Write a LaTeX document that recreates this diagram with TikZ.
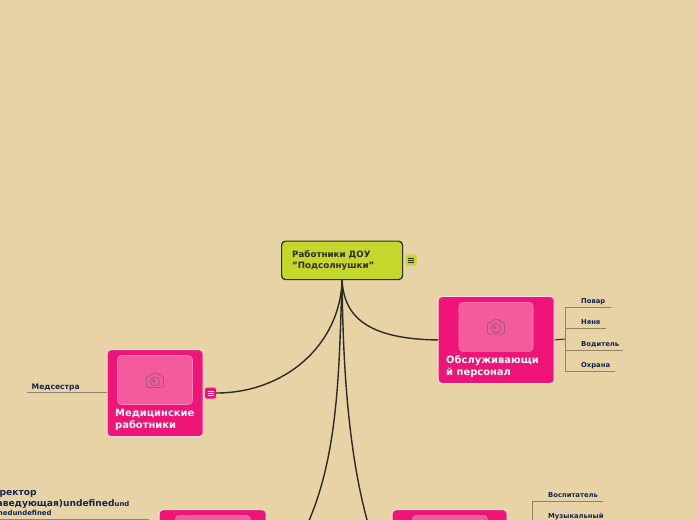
\documentclass[tikz,border=0pt]{standalone}
\usepackage{fontspec}
\setmainfont{DejaVu Sans}
\usetikzlibrary{calc}
\definecolor{bgc}{HTML}{E8D3A6}
\definecolor{rootc}{HTML}{C3D82B}
\definecolor{pinkc}{HTML}{EF1478}
\definecolor{photoc}{HTML}{F45B9D}
\definecolor{iconc}{HTML}{A8587F}
\definecolor{navyc}{HTML}{14264F}
\definecolor{linec}{HTML}{8F8268}
\definecolor{darkc}{HTML}{2E2A24}
\tikzset{
 card/.style={draw=white!85!pinkc,line width=.9pt,fill=pinkc,rounded corners=4pt,anchor=north west,inner sep=0pt,minimum width=#1},
 photo/.style={draw=white!25!photoc,line width=.6pt,fill=photoc,rounded corners=4pt,inner sep=0pt,minimum width=74pt,minimum height=49pt,anchor=north west},
 cardtext/.style={anchor=north west,text=white,font=\bfseries\fontsize{9.95}{12.2}\selectfont,inner sep=0pt,align=left},
 leaf/.style={anchor=base west,text=navyc,font=\bfseries\fontsize{6.8}{8}\selectfont,inner sep=0pt},
 leafline/.style={draw=linec,line width=1pt},
 main/.style={draw=darkc,line width=1.4pt,line cap=round},
 badge/.style={rounded corners=1.5pt,inner sep=0pt,minimum size=11pt},
}
\newcommand{\camicon}[1]{%
 \begin{scope}[shift={(#1)},draw=iconc,line width=.9pt]
  \draw[rounded corners=1.5pt] (-8.5,-4.5) -- (-4,-4.5) -- (-3,-7.5) -- (3.5,-7.5) -- (4.5,-4.5) -- (8.5,-4.5) -- (8.5,7) -- (-8.5,7) -- cycle;
  \draw (0,1) circle (4.6pt);
  \draw (-1.4,.4) circle (1.3pt);
 \end{scope}}
\newcommand{\barsicon}[2]{%
 \draw[#2,line width=.6pt] ($(#1)+(-3,-2.2)$) -- ++(6,0) ($(#1)+(-3,0)$) -- ++(6,0) ($(#1)+(-3,2.2)$) -- ++(6,0);}
\begin{document}
\begin{tikzpicture}[x=1pt,y=-1pt]
\useasboundingbox (0,0) rectangle (697,520);
\fill[bgc] (0,0) rectangle (697,520);
\clip (0,0) rectangle (697,520);

% nodes
\node[draw=darkc,line width=1.2pt,fill=rootc,rounded corners=4pt,anchor=north west,inner sep=0pt,minimum width=121pt,minimum height=38.5pt] (root) at (281,240.5) {};
\node[anchor=north west,inner sep=0pt,align=left,text=darkc,font=\bfseries\fontsize{8.7}{11}\selectfont] (roottext) at (292,250) {Работники ДОУ\\"Подсолнушки"};
\node[badge,fill=rootc] (rootbadge) at (411,260) {};
\barsicon{rootbadge}{darkc}

\node[card=116pt,minimum height=87pt] (serv) at (437.7,296) {};
\node[photo] (servphoto) at (458.7,302) {};
\camicon{496,327}
\node[cardtext] (servtext) at (446,355.5) {Обслуживающи\\й персонал};

\node[card=96pt,minimum height=87pt] (med) at (106.7,349.2) {};
\node[photo,minimum width=75pt] (medphoto) at (117.2,355.2) {};
\camicon{155,380.5}
\node[cardtext] (medtext) at (115,409) {Медицинские\\работники};
\node[badge,fill=pinkc] (medbadge) at (210.5,393) {};
\barsicon{medbadge}{white}

\node[card=107pt,minimum height=150pt] (adm) at (158.7,509.2) {};
\node[photo,minimum width=75pt] (admphoto) at (175,515) {};
\node[card=115pt,minimum height=150pt] (ped) at (391.7,509.2) {};
\node[photo,minimum width=75pt] (pedphoto) at (412,515) {};

% main connectors
\draw[main] (root.south) .. controls (344,315) and (365,339) .. (serv.west);
\draw[main] (root.south) .. controls (340,345) and (285,393) .. (medbadge.east);
\draw[main] (root.south) .. controls (338,390) and (340,510) .. (adm.east);
\draw[main] (root.south) .. controls (343,390) and (352,510) .. (ped.west);

% service staff leaves
\coordinate (sjoin) at (565,339);
\draw[draw=darkc,line width=1pt] (serv.east) -- (sjoin);
\coordinate (s1) at (611,307.5);
\coordinate (s2) at (606,328.5);
\coordinate (s3) at (623,350.5);
\coordinate (s4) at (615,371.5);
\draw[leafline] (s1) -- (565,307.5) -- (565,371.5) -- (s4);
\draw[leafline] (565,328.5) -- (s2);
\draw[leafline] (565,350.5) -- (s3);
\node[leaf] (povar) at (581,303) {Повар};
\node[leaf] (nyanya) at (581,324) {Няня};
\node[leaf] (voditel) at (581,346) {Водитель};
\node[leaf] (ohrana) at (581,367.5) {Охрана};

% medical leaf
\coordinate (mend) at (27,392.5);
\draw[leafline] (med.west |- mend) -- (mend);
\node[leaf,font=\bfseries\fontsize{7.6}{10}\selectfont] (medsestra) at (31.5,389) {Медсестра};

% administration leaf
\coordinate (aend) at (0,519.5);
\draw[leafline,line width=1.4pt] (149,519.5) -- (aend);
\node[anchor=base west,inner sep=0pt,text=navyc,font=\bfseries\fontsize{9.1}{11}\selectfont] (dir1) at (-15,495.5) {Директор};
\node[anchor=base west,inner sep=0pt,text=navyc,font=\bfseries\fontsize{9.1}{11}\selectfont] (dir2) at (-13,506.5) {(заведующая)undefined{\fontsize{6.9}{8}\selectfont und}};
\node[anchor=base west,inner sep=0pt,text=navyc,font=\bfseries\fontsize{6.9}{8}\selectfont] (dir3) at (-12,515) {efinedundefined};

% pedagogues leaves
\coordinate (pend) at (603,501);
\draw[leafline] (pend) -- (532,501) -- (532,520);
\node[leaf] (vosp) at (548,497.5) {Воспитатель};
\node[leaf] (muz) at (548,518.5) {Музыкальный};
\end{tikzpicture}
\end{document}
